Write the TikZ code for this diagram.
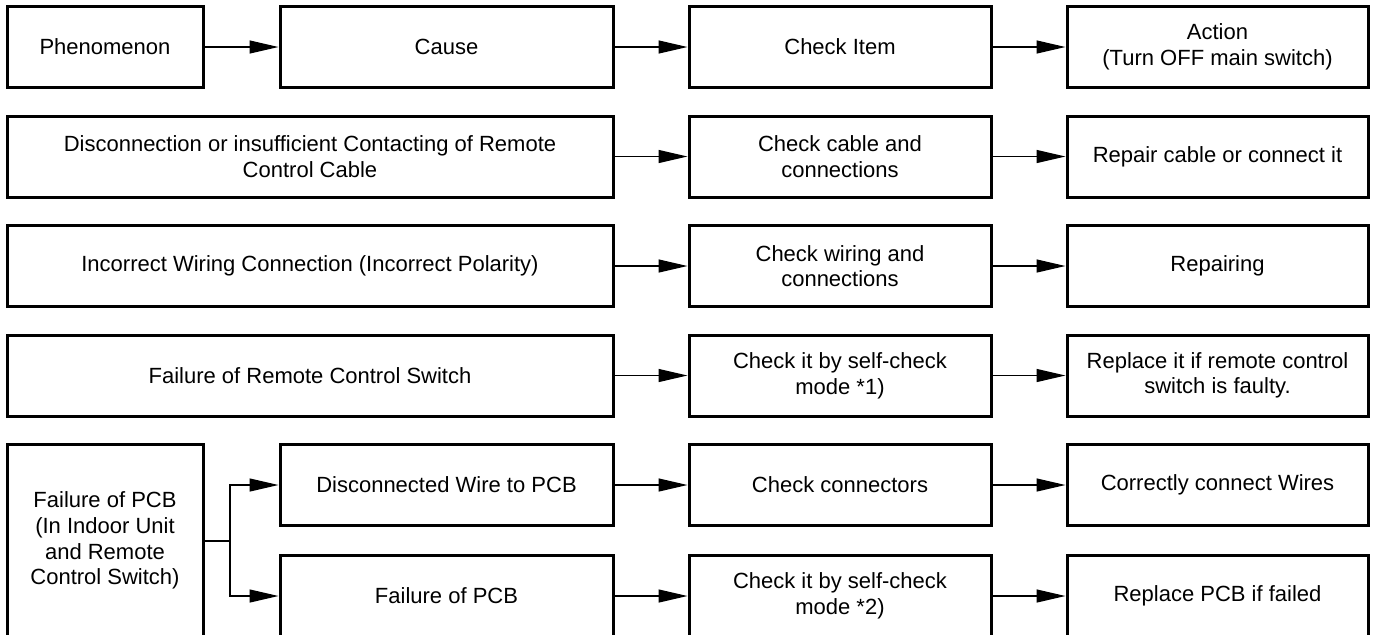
\documentclass[tikz,border=0pt]{standalone}
\usepackage{fontspec}
\setmainfont{Liberation Sans}
\usetikzlibrary{arrows.meta}

\begin{document}
\begin{tikzpicture}[x=0.5pt,y=-0.5pt,font=\fontsize{11}{12.8}\selectfont]
\useasboundingbox (0,0) rectangle (1373,634);
% first column
\begin{scope}[every node/.style={rectangle,draw,line width=1.5pt,align=center,minimum height=40.5pt,minimum width=98pt}]
    \node (P0) at (105,47) {Phenomenon};
    \node[minimum height=96.5pt] (F4) at (105,540.5) {Failure of PCB\\(In Indoor Unit\\and Remote\\Control Switch)};
\end{scope}
% causes
\begin{scope}[every node/.style={rectangle,draw,line width=1.5pt,align=center,minimum height=40.5pt,minimum width=166.5pt}]
    \node (C0) at (446.5,47) {Cause};
    \node (C4) at (446.5,485) {Disconnected Wire to PCB};
    \node (C5) at (446.5,596) {Failure of PCB};
\end{scope}
\begin{scope}[every node/.style={rectangle,draw,line width=1.5pt,align=center,minimum height=40.5pt,minimum width=303pt}]
    \node (C1) at (310,156.5) {Disconnection or insufficient Contacting of Remote\\Control Cable};
    \node (C2) at (310,266) {Incorrect Wiring Connection (Incorrect Polarity)};
    \node (C3) at (310,375.5) {Failure of Remote Control Switch};
\end{scope}
% check items
\begin{scope}[every node/.style={rectangle,draw,line width=1.5pt,align=center,minimum height=40.5pt,minimum width=151pt}]
    \node (K0) at (840,47) {Check Item};
    \node (K1) at (840,156.5) {Check cable and\\connections};
    \node (K2) at (840,266) {Check wiring and\\connections};
    \node (K3) at (840,375.5) {Check it by self-check\\mode *1)};
    \node (K4) at (840,485) {Check connectors};
    \node (K5) at (840,596) {Check it by self-check\\mode *2)};
\end{scope}
% actions
\begin{scope}[every node/.style={rectangle,draw,line width=1.5pt,align=center,minimum height=40.5pt,minimum width=150.5pt}]
    \node (A0) at (1217.5,47) {Action\\(Turn OFF main switch)};
    \node (A1) at (1217.5,156.5) {Repair cable or connect it};
    \node (A2) at (1217.5,266) {Repairing};
    \node (A3) at (1217.5,375.5) {Replace it if remote control\\switch is faulty.};
    \node (A4) at (1217.5,485) {Correctly connect Wires};
    \node (A5) at (1217.5,596) {Replace PCB if failed};
\end{scope}
\begin{scope}[>={Triangle[length=14.5pt,width=6.5pt]},
              every edge/.style={draw,line width=0.65pt}]
    \path [->] (P0) edge (C0);
    \path [->] (C0) edge (K0);
    \path [->] (K0) edge (A0);
    \path [->] (C1) edge (K1);
    \path [->] (K1) edge (A1);
    \path [->] (C2) edge (K2);
    \path [->] (K2) edge (A2);
    \path [->] (C3) edge (K3);
    \path [->] (K3) edge (A3);
    \path [->] (C4) edge (K4);
    \path [->] (K4) edge (A4);
    \path [->] (C5) edge (K5);
    \path [->] (K5) edge (A5);
    \coordinate (J) at (230,541);
    \draw [line width=0.65pt] (F4.east |- J) -- (J);
    \draw [->,line width=0.65pt] (J) |- (C4);
    \draw [->,line width=0.65pt] (J) |- (C5);
\end{scope}
\end{tikzpicture}
\end{document}
